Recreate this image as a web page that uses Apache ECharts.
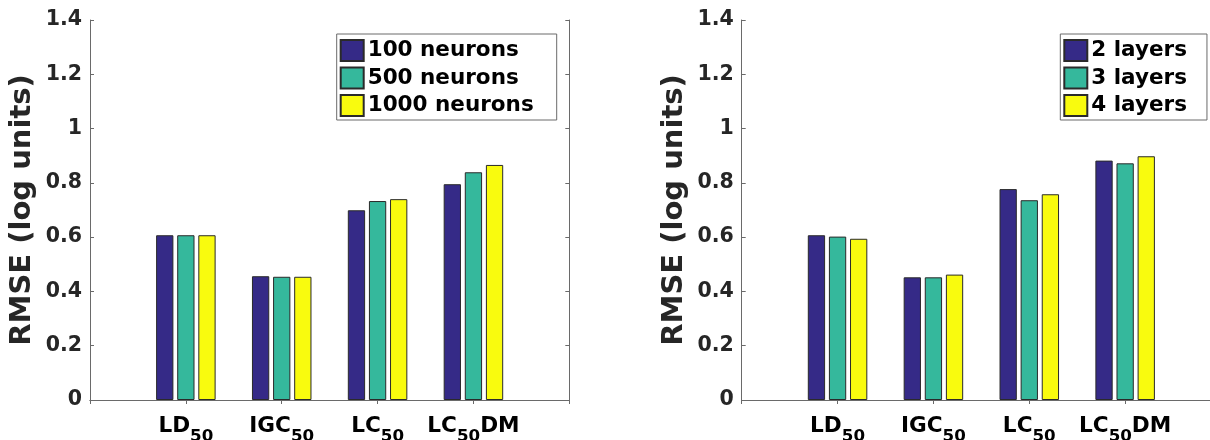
<!DOCTYPE html>
<html>
<head>
<meta charset="utf-8">
<script src="https://cdn.jsdelivr.net/npm/echarts@6/dist/echarts.min.js"></script>
<style>
html,body{margin:0;padding:0;background:#fff;}
#chart{width:1210px;height:440px;}
</style>
</head>
<body>
<div id="chart"></div>
<script>
// ---- data ----
const categories = ['LD50', 'IGC50', 'LC50', 'LC50DM'];
const leftSeriesNames = ['100 neurons', '500 neurons', '1000 neurons'];
const left100 = [0.607, 0.456, 0.699, 0.795];
const left500 = [0.607, 0.454, 0.733, 0.839];
const left1000 = [0.607, 0.454, 0.740, 0.866];
const rightSeriesNames = ['2 layers', '3 layers', '4 layers'];
const right2 = [0.607, 0.452, 0.777, 0.882];
const right3 = [0.602, 0.452, 0.736, 0.872];
const right4 = [0.594, 0.462, 0.758, 0.898];
const yTicks = [0, 0.2, 0.4, 0.6, 0.8, 1, 1.2, 1.4];
const yTitle = 'RMSE (log units)';

// ---- styling ----
const FONT = 'DejaVu Sans';
const colors = ['#352A87', '#35B89C', '#F9FB0E'];
const axisColor = '#6a6a6a';
const paddedCats = [''].concat(categories, ['']);
const pad = arr => ['-'].concat(arr, ['-']);

function catLabel(v) {
  if (!v) return '';
  const m = v.match(/^([A-Z]+)50(.*)$/);
  if (!m) return '{b|' + v + '}';
  let s = '{b|' + m[1] + '}{s|50}';
  if (m[2]) s += '{b|' + m[2] + '}';
  return s;
}

const rich = {
  b: {fontFamily: FONT, fontWeight: 'bold', fontSize: 21.6, color: '#000', lineHeight: 22, verticalAlign: 'top'},
  s: {fontFamily: FONT, fontWeight: 'bold', fontSize: 16.7, color: '#000', lineHeight: 16, verticalAlign: 'top', padding: [13, 0, 0, 0]}
};

const grids = [
  {left: 90, top: 20, width: 479.3, height: 380, containLabel: false, outerBoundsMode: 'none'},
  {left: 741.7, top: 20, width: 479.3, height: 380, containLabel: false, outerBoundsMode: 'none'}
];

const xAxes = [], yAxes = [];
[0, 1].forEach(g => {
  xAxes.push({
    type: 'category', gridIndex: g, data: paddedCats, boundaryGap: false, position: 'bottom',
    axisLine: {lineStyle: {color: axisColor, width: 1}},
    axisTick: {show: true, inside: true, length: 4, interval: 0, lineStyle: {color: axisColor}},
    axisLabel: {interval: 0, margin: 15, formatter: catLabel, rich: rich},
    splitLine: {show: false}
  });
  xAxes.push({
    type: 'category', gridIndex: g, data: paddedCats, boundaryGap: false, position: 'top',
    axisLine: {lineStyle: {color: axisColor, width: 1}},
    axisTick: {show: true, inside: true, length: 4, interval: 0, lineStyle: {color: axisColor}},
    axisLabel: {show: false},
    splitLine: {show: false}
  });
  yAxes.push({
    type: 'value', gridIndex: g, min: yTicks[0], max: yTicks[yTicks.length - 1], interval: 0.2, position: 'left',
    name: yTitle, nameLocation: 'middle', nameGap: 53,
    nameTextStyle: {fontFamily: FONT, fontWeight: 'bold', fontSize: 29, color: '#262626'},
    axisLine: {show: true, lineStyle: {color: axisColor, width: 1}},
    axisTick: {show: true, inside: true, length: 4, lineStyle: {color: axisColor}},
    axisLabel: {margin: 8, fontFamily: FONT, fontWeight: 'bold', fontSize: 20.5, color: '#262626',
      padding: [3, 0, 0, 0],
      formatter: v => String(Math.round(v * 10) / 10)},
    splitLine: {show: false}
  });
  yAxes.push({
    type: 'value', gridIndex: g, min: yTicks[0], max: yTicks[yTicks.length - 1], interval: 0.2, position: 'right',
    axisLine: {show: true, lineStyle: {color: axisColor, width: 1}},
    axisTick: {show: true, inside: true, length: 4, lineStyle: {color: axisColor}},
    axisLabel: {show: false},
    splitLine: {show: false}
  });
});

function barSeries(name, data, colorIdx, g) {
  return {
    type: 'bar', name: name, data: pad(data), xAxisIndex: g * 2, yAxisIndex: g * 2,
    barWidth: 17.3, barGap: '22%',
    itemStyle: {color: colors[colorIdx], borderColor: '#2a2a2a', borderWidth: 1},
    emphasis: {disabled: true}, animation: false
  };
}

const series = [
  barSeries(leftSeriesNames[0], left100, 0, 0),
  barSeries(leftSeriesNames[1], left500, 1, 0),
  barSeries(leftSeriesNames[2], left1000, 2, 0),
  barSeries(rightSeriesNames[0], right2, 0, 1),
  barSeries(rightSeriesNames[1], right3, 1, 1),
  barSeries(rightSeriesNames[2], right4, 2, 1)
];

const legendCommon = {
  orient: 'vertical', top: 34, itemWidth: 23, itemHeight: 21, itemGap: 4.5,
  icon: 'rect', borderColor: axisColor, borderWidth: 1, backgroundColor: '#fff',
  textStyle: {fontFamily: FONT, fontWeight: 'bold', fontSize: 21.5, color: '#000', padding: [0, 0, 0, -1]},
  selectedMode: false
};

const option = {
  animation: false,
  grid: grids,
  xAxis: xAxes,
  yAxis: yAxes,
  legend: [
    Object.assign({}, legendCommon, {data: leftSeriesNames, left: 336.7, padding: [5, 23, 3, 3]}),
    Object.assign({}, legendCommon, {data: rightSeriesNames, left: 1060.3, padding: [5, 20, 3, 3]})
  ],
  series: series
};

const chart = echarts.init(document.getElementById('chart'), null, {renderer: 'canvas'});
chart.setOption(option);
</script>
</body>
</html>
